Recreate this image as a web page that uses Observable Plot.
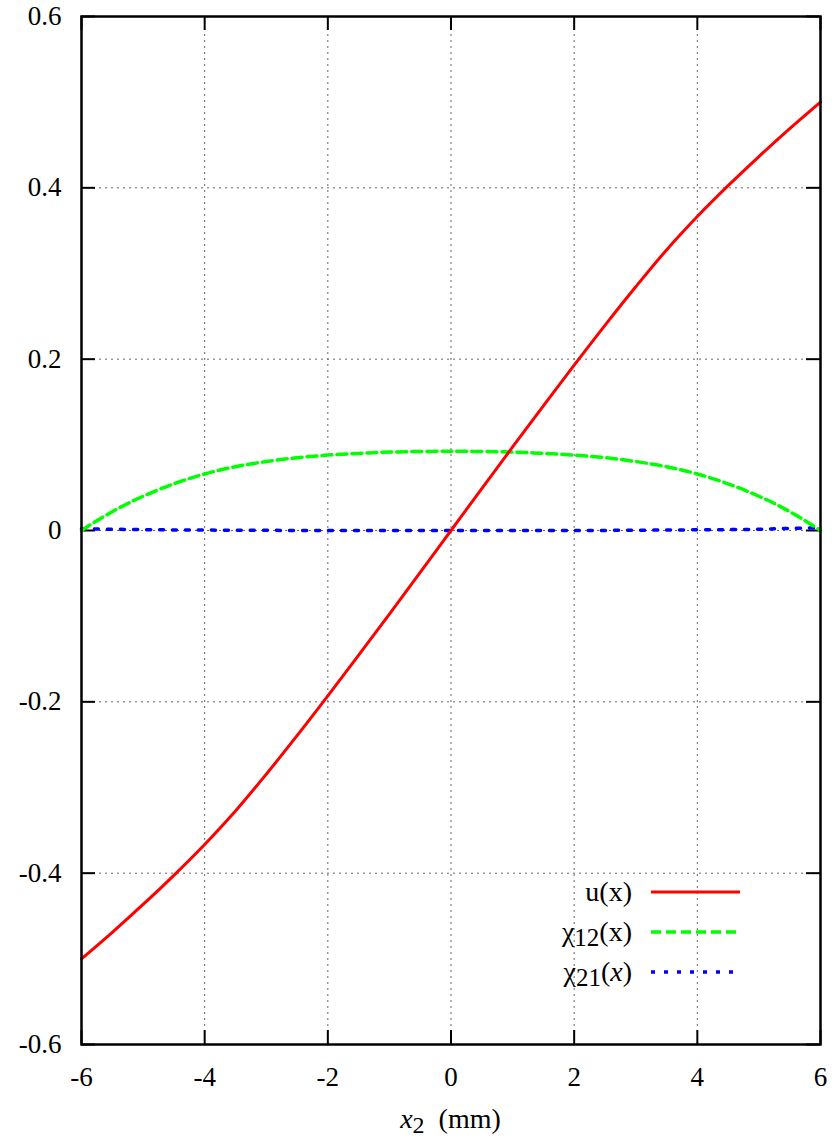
<!DOCTYPE html>
<html>
<head>
<meta charset="utf-8">
<script src="https://cdn.jsdelivr.net/npm/d3@7"></script>
<script src="https://cdn.jsdelivr.net/npm/@observablehq/plot@0.6"></script>
<style>
  html, body { margin: 0; padding: 0; background: #fff; }
  #chart svg { display: block; }
  #chart svg, #chart svg text { font-family: "Liberation Serif", "Times New Roman", Times, "DejaVu Serif", serif !important; }
</style>
</head>
<body>
<div id="chart"></div>
<script>
// ---- data ----
const uX = [-6, -5.5, -5, -4.5, -4, -3.5, -3, -2.5, -2, -1.5, -1, -0.5, 0, 0.5, 1, 1.5, 2, 2.5, 3, 3.5, 4, 4.5, 5, 5.5, 6];
const uY = [-0.500, -0.469, -0.4365, -0.4025, -0.3665, -0.3275, -0.2845, -0.2395, -0.193, -0.1455, -0.0975, -0.049, 0,
             0.049, 0.0975, 0.1455, 0.193, 0.2395, 0.2845, 0.3275, 0.3665, 0.4025, 0.4365, 0.469, 0.500];

const chi12X = [-6, -5.75, -5.5, -5.25, -5, -4.5, -4, -3.5, -3, -2.5, -2, -1.5, -1, 0,
                1, 1.5, 2, 2.5, 3, 3.5, 4, 4.5, 5, 5.25, 5.5, 5.75, 6];
const chi12Y = [0, 0.0115, 0.022, 0.0315, 0.040, 0.0545, 0.066, 0.0745, 0.0805, 0.085, 0.088, 0.090, 0.0915, 0.0925,
                0.0915, 0.090, 0.088, 0.085, 0.0805, 0.0745, 0.066, 0.0545, 0.040, 0.0315, 0.022, 0.0115, 0];

const chi21X = [-6, -5, -4, -2, 0, 2, 4, 5, 5.5, 6];
const chi21Y = [0.002, 0.001, 0.0005, 0, 0, 0, 0.0008, 0.0015, 0.0025, 0.003];

const xTicks = [-6, -4, -2, 0, 2, 4, 6];
const yTicks = [-0.6, -0.4, -0.2, 0, 0.2, 0.4, 0.6];

const seriesNames = ["u(x)", "χ12(x)", "χ21(x)"];
const seriesColors = ["#ff0000", "#00ff00", "#0000ff"];

// ---- build tables ----
const uData = uX.map((x, i) => ({x, y: uY[i]}));
const c12Data = chi12X.map((x, i) => ({x, y: chi12Y[i]}));
const c21Data = chi21X.map((x, i) => ({x, y: chi21Y[i]}));

const FONT = "'Liberation Serif', 'Times New Roman', Times, 'DejaVu Serif', serif";
const W = 835, H = 1142;
const mL = 81, mR = 15, mT = 16, mB = 98;
const innerW = W - mL - mR, innerH = H - mT - mB;
const tickLen = 14;
const fmtY = d => d === 0 ? "0" : d.toFixed(1);
const fmtX = d => String(d);
const gridStyle = {stroke: "#666", strokeWidth: 1, strokeDasharray: "2,4"};

const plot = Plot.plot({
  width: W,
  height: H,
  marginLeft: mL,
  marginRight: mR,
  marginTop: mT,
  marginBottom: mB,
  style: {fontFamily: FONT, fontSize: "27px", color: "#000", background: "#fff"},
  x: {domain: [-6, 6], label: null},
  y: {domain: [-0.6, 0.6], label: null},
  marks: [
    // grid
    Plot.ruleX(xTicks.slice(1, -1), gridStyle),
    Plot.ruleY(yTicks.slice(1, -1), gridStyle),
    // inward ticks on all four sides
    Plot.ruleX(xTicks, {stroke: "#000", strokeWidth: 2, insetTop: innerH - tickLen}),
    Plot.ruleX(xTicks, {stroke: "#000", strokeWidth: 2, insetBottom: innerH - tickLen}),
    Plot.ruleY(yTicks, {stroke: "#000", strokeWidth: 2, insetRight: innerW - tickLen}),
    Plot.ruleY(yTicks, {stroke: "#000", strokeWidth: 2, insetLeft: innerW - tickLen}),
    // axes labels
    Plot.axisX(xTicks, {tickSize: 0, tickPadding: 22, tickFormat: fmtX, fontSize: 27, fontFamily: FONT, label: null}),
    Plot.axisY(yTicks, {tickSize: 0, tickPadding: 20, tickFormat: fmtY, fontSize: 27, fontFamily: FONT, label: null}),
    // series
    Plot.line(c21Data, {x: "x", y: "y", stroke: seriesColors[2], strokeWidth: 3.5, strokeDasharray: "4,9", curve: "catmull-rom"}),
    Plot.line(c12Data, {x: "x", y: "y", stroke: seriesColors[1], strokeWidth: 3.5, strokeDasharray: "10,5", curve: "catmull-rom"}),
    Plot.line(uData, {x: "x", y: "y", stroke: seriesColors[0], strokeWidth: 3, curve: "catmull-rom"}),
    // frame
    Plot.frame({stroke: "#000", strokeWidth: 2.5})
  ]
});

document.getElementById("chart").appendChild(plot);

// ---- x-axis title and legend ----
const svg = d3.select(plot);
const xt = svg.append("text")
  .attr("x", mL + innerW / 2)
  .attr("y", H - 14)
  .attr("text-anchor", "middle")
  .style("font-family", FONT)
  .attr("font-size", 28)
  .attr("fill", "#000");
xt.append("tspan").attr("font-style", "italic").text("x");
xt.append("tspan").attr("font-size", 24).attr("dy", 5).text("2");
xt.append("tspan").attr("dy", -5).text("\u00a0 (mm)");

const legX = 632, lineX1 = 651, lineX2 = 740, legY0 = 892, legDY = 40;
const dashes = [null, "10,5", "4,9"];
const widths = [3, 3.5, 3.5];
seriesNames.forEach((name, i) => {
  const y = legY0 + i * legDY;
  const t = svg.append("text")
    .attr("x", legX).attr("y", y).attr("dy", "0.32em")
    .attr("text-anchor", "end")
    .style("font-family", FONT)
    .attr("font-size", 28)
    .attr("fill", "#000");
  if (i === 0) {
    t.text(name);
  } else {
    const sub = name.slice(1, 3);
    t.append("tspan").text("χ");
    t.append("tspan").attr("font-size", 25).attr("dy", 5).text(sub);
    const rest = t.append("tspan").attr("dy", -5);
    if (i === 2) {
      rest.text("(");
      t.append("tspan").attr("font-style", "italic").text("x");
      t.append("tspan").text(")");
    } else {
      rest.text("(x)");
    }
  }
  svg.append("line")
    .attr("x1", lineX1).attr("x2", lineX2)
    .attr("y1", y).attr("y2", y)
    .attr("stroke", seriesColors[i])
    .attr("stroke-width", widths[i])
    .attr("stroke-dasharray", dashes[i]);
});
</script>
</body>
</html>
